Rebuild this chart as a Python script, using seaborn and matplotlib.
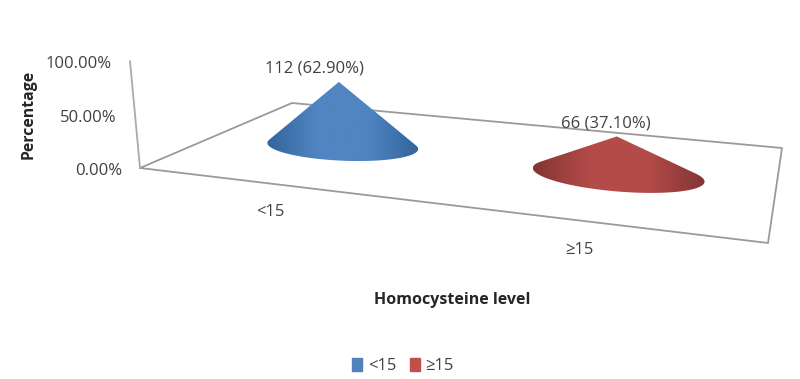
import matplotlib
matplotlib.use("Agg")
import matplotlib.pyplot as plt
import numpy as np
import seaborn as sns
from matplotlib.colors import LinearSegmentedColormap
from matplotlib.patches import Patch, Polygon

categories = ["<15", "≥15"]
counts = [112, 66]
percents = [62.90, 37.10]
y_ticks = [0, 50, 100]
y_tick_labels = ["0.00%", "50.00%", "100.00%"]
colors = ["#4F81BD", "#C0504D"]
mid_shades = ["#5085C2", "#B34B49"]
dark_shades = ["#33659B", "#843534"]

# Floor corners on the canvas (front-left, back-left, back-right, front-right)
FLOOR = np.array([[140, 168], [292, 103], [782, 148], [768, 243]], dtype=float)
CENTRES = [(0.247, 0.48), (0.747, 0.48)]
RADIUS = 0.142
CONE_SCALE = 0.94


def floor_matrix():
    """Homography from the unit square to the floor corners"""
    square = [(0, 0), (0, 1), (1, 1), (1, 0)]
    rows, rhs = [], []
    for (u, v), (x, y) in zip(square, FLOOR):
        rows.append([u, v, 1, 0, 0, 0, -u * x, -v * x])
        rows.append([0, 0, 0, u, v, 1, -u * y, -v * y])
        rhs += [x, y]
    return np.append(np.linalg.solve(np.array(rows), np.array(rhs)), 1).reshape(3, 3)


H = floor_matrix()


def project(u, v, z=0.0):
    """Floor position plus height in percent to canvas pixels"""
    p = H @ np.array([u, v, np.ones_like(u)], dtype=float)
    x, y = p[0] / p[2], p[1] / p[2]
    return x - z * 0.10 * (1 - u) ** 2, y - z * 1.07


def hull(points):
    """Convex hull, used for the cone outline"""
    pts = sorted(map(tuple, points))

    def half(seq):
        out = []
        for p in seq:
            while len(out) > 1 and np.cross(np.subtract(out[-1], out[-2]), np.subtract(p, out[-2])) <= 0:
                out.pop()
            out.append(p)
        return out[:-1]

    return np.array(half(pts) + half(pts[::-1]))


sns.set_theme(style="white")
plt.rcParams["font.family"] = ["Open Sans", "DejaVu Sans"]
TEXT = "#404040"

fig = plt.figure(figsize=(8, 3.79), dpi=100)
ax = fig.add_axes([0, 0, 1, 1])
ax.set_xlim(0, 800)
ax.set_ylim(379, 0)
ax.axis("off")

# Floor outline and the percentage axis
us = np.array([0, 0, 1, 1, 0], dtype=float)
vs = np.array([0, 1, 1, 0, 0], dtype=float)
fx, fy = project(us, vs)
sns.lineplot(x=fx, y=fy, sort=False, estimator=None, color="#9A9A9A", linewidth=1.3, ax=ax)
wx, wy = project(np.zeros(2), np.zeros(2), np.array([0, y_ticks[-1]], dtype=float))
sns.lineplot(x=wx, y=wy, sort=False, estimator=None, color="#AAAAAA", linewidth=1.3, ax=ax)

for tick, label in zip(y_ticks, y_tick_labels):
    tx, ty = project(np.array(0.0), np.array(0.0), float(tick))
    ax.text(tx - 18, ty + 3, label, ha="right", va="center", fontsize=12, color=TEXT)

# Cones, height taken from the percentage
theta = np.linspace(0, 2 * np.pi, 200)
label_dx = [-24, -11]
for i, pct in enumerate(percents):
    cu, cv = CENTRES[i]
    bx, by = project(cu + RADIUS * np.cos(theta), cv + RADIUS * 1.3 * np.sin(theta))
    ax_x, ax_y = project(np.array(cu), np.array(cv), pct * CONE_SCALE)
    outline = hull(np.vstack([np.column_stack([bx, by]), [[float(ax_x), float(ax_y)]]]))
    cmap = LinearSegmentedColormap.from_list(
        f"cone{i}", [dark_shades[i], mid_shades[i], mid_shades[i], dark_shades[i]]
    )
    x0, x1, y0, y1 = outline[:, 0].min(), outline[:, 0].max(), outline[:, 1].min(), outline[:, 1].max()
    img = ax.imshow(
        np.linspace(0, 1, 256).reshape(1, -1),
        extent=(x0, x1, y1, y0),
        cmap=cmap,
        aspect="auto",
        zorder=3,
    )
    img.set_clip_path(Polygon(outline, closed=True, transform=ax.transData))
    ax.text(
        float(ax_x) + label_dx[i],
        float(ax_y) - 13,
        f"{counts[i]} ({pct:.2f}%)",
        ha="center",
        va="center",
        fontsize=12,
        color=TEXT,
        zorder=4,
    )

ax.set_xlim(0, 800)
ax.set_ylim(379, 0)

# Category labels under the front edge
ax.text(270, 212, categories[0], ha="center", va="center", fontsize=12, color=TEXT)
ax.text(579, 250, categories[1], ha="center", va="center", fontsize=12, color=TEXT)

ax.text(29, 114, "Percentage", rotation=90, ha="center", va="center", fontsize=11.4, fontweight="bold", color="#262626")
ax.text(452, 300, "Homocysteine level", ha="center", va="center", fontsize=11.5, fontweight="bold", color="#262626")

handles = [Patch(color=c, label=n) for c, n in zip(colors, categories)]
ax.legend(
    handles=handles,
    loc="center",
    bbox_to_anchor=(403 / 800, 1 - 366 / 379),
    ncol=2,
    frameon=False,
    fontsize=12,
    handlelength=0.6,
    handleheight=0.8,
    handletextpad=0.35,
    columnspacing=0.78,
    labelcolor=TEXT,
)

fig.savefig("out.png", dpi=100)
